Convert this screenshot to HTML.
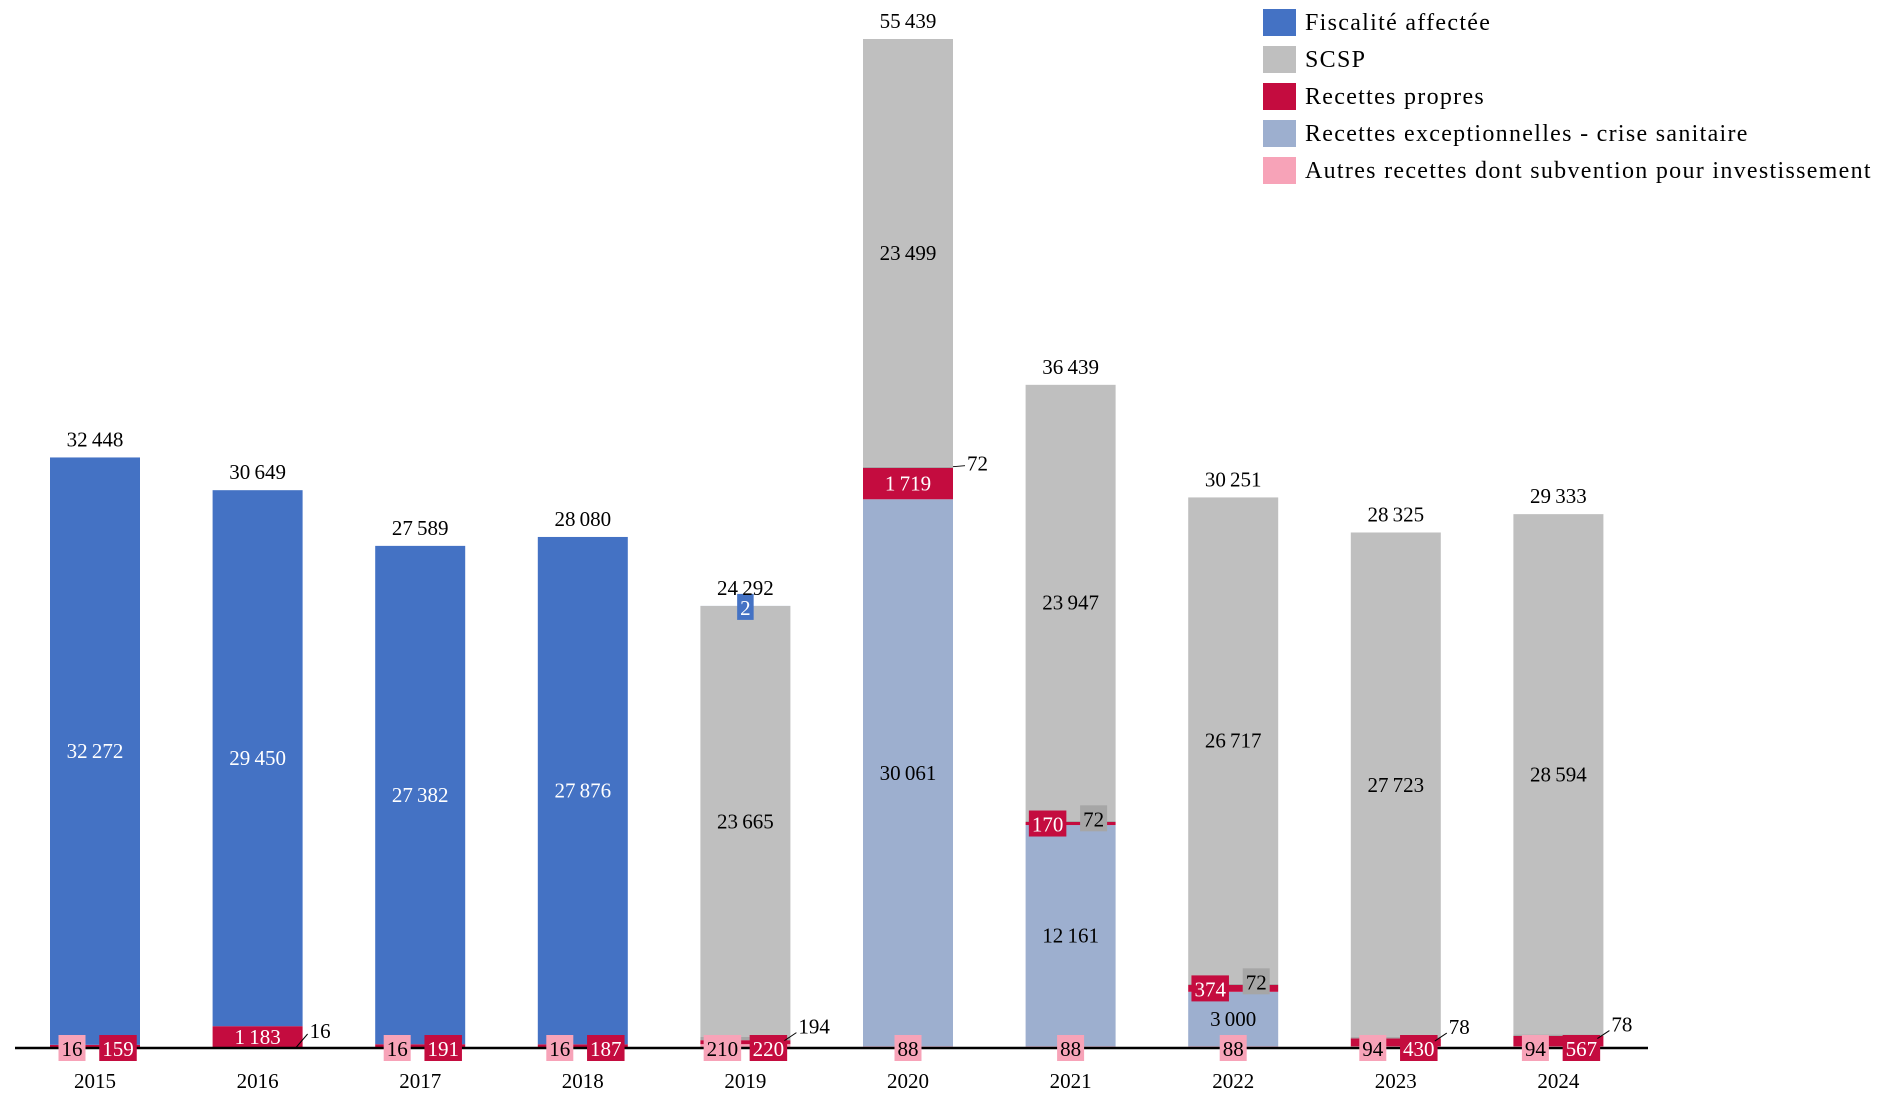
<!DOCTYPE html>
<html><head><meta charset="utf-8"><style>
body{margin:0;background:#fff}
svg{display:block;font-family:"Liberation Serif",serif}
</style></head><body>
<svg id="chart" width="1904" height="1103" viewBox="0 0 1904 1103"></svg>
<script>
const years=["2015","2016","2017","2018","2019","2020","2021","2022","2023","2024"];
const autres=[16,16,16,16,210,88,88,88,94,94];
const excep=[0,0,0,0,0,30061,12161,3000,0,0];
const propres=[159,1183,191,187,220,1719,170,374,430,567];
const autre2=[0,0,0,0,194,72,72,72,78,78];
const scsp=[0,0,0,0,23665,23499,23947,26717,27723,28594];
const fisc=[32272,29450,27382,27876,2,0,0,0,0,0];
const totals=[32448,30649,27589,28080,24292,55439,36439,30251,28325,29333];

const svg=document.getElementById('chart');
const NS='http://www.w3.org/2000/svg';
const axisY=1048, k=1009/55439, x0=95, step=162.6, bw=90;
const X=i=>x0+i*step, Y=v=>axisY-v*k;
const fmt=v=>String(v).replace(/\B(?=(\d{3})+(?!\d))/g,'\u202F');
function el(tag,attrs,parent){const e=document.createElementNS(NS,tag);for(const a in attrs)e.setAttribute(a,attrs[a]);(parent||svg).appendChild(e);return e;}
function txt(x,y,s,fill,anchor,name){const t=el('text',{x:x,y:y,'font-size':21,fill:fill,'text-anchor':anchor||'middle','dominant-baseline':'central'});t.textContent=s;


return t;}
function box(cx,cy,s,bg,fg,name){const w=s.length*10.5+6;const r=el('rect',{x:cx-w/2,y:cy-13,width:w,height:26,fill:bg});


txt(cx,cy+1,s,fg,'middle',name);}

const series=[
 {d:autres,c:'#f7a3b8',n:'autres',fg:'#000'},
 {d:excep,c:'#9dafcf',n:'exceptionnelles',fg:'#000'},
 {d:propres,c:'#c40c3f',n:'propres',fg:'#fff'},
 {d:autre2,c:'#a6a6a6',n:'autres-2',fg:'#000'},
 {d:scsp,c:'#bfbfbf',n:'scsp',fg:'#000'},
 {d:fisc,c:'#4472c4',n:'fiscalite',fg:'#fff'}];

years.forEach((yr,i)=>{
 let base=0;
 series.forEach(s=>{const v=s.d[i];if(v>0){const r=el('rect',{x:X(i)-bw/2,y:Y(base+v),width:bw,height:v*k,fill:s.c});
 
 }
 s.base=s.base||[];s.base[i]=base;base+=v;});
});
const ax=el('line',{x1:15,x2:1648,y1:axisY,y2:axisY,stroke:'#000','stroke-width':2.5});



const TH=18;
years.forEach((yr,i)=>{
 const cx=X(i);
 series.forEach(s=>{
  const v=s.d[i];if(!v)return;
  const b=s.base[i],h=v*k,mid=Y(b+v/2);
  const nm='label-'+s.n+'-'+yr;
  if(h>TH){txt(cx,mid,fmt(v),s.fg,'middle',nm);return;}
  const hasEx=excep[i]>0;
  if(s.n==='autres'){
   if(hasEx) box(cx,axisY,fmt(v),s.c,'#000',nm);
   else if(propres[i]*k>TH){const l=el('line',{x1:cx+bw/2-7,y1:axisY,x2:cx+bw/2+5,y2:axisY-14,stroke:'#000','stroke-width':1});
    
    txt(cx+bw/2+7,axisY-17,fmt(v),'#000','start',nm);}
   else box(cx-23,axisY,fmt(v),s.c,'#000',nm);
  } else if(s.n==='propres'){
   if(hasEx) box(cx-23,mid,fmt(v),s.c,'#fff',nm);
   else box(cx+23,axisY,fmt(v),s.c,'#fff',nm);
  } else if(s.n==='autres-2'){
   if(hasEx && propres[i]*k<=TH) box(cx+23,mid-3,fmt(v),s.c,'#000',nm);
   else if(propres[i]*k>TH){const yy=Y(b+v);const l=el('line',{x1:cx+bw/2,y1:yy,x2:cx+bw/2+12,y2:yy-1,stroke:'#000','stroke-width':1});
    
    txt(cx+bw/2+14,yy-3,fmt(v),'#000','start',nm);}
   else {const yy=Y(b+v);const l=el('line',{x1:cx+bw/2-6,y1:yy+4,x2:cx+bw/2+6,y2:yy-4,stroke:'#000','stroke-width':1});
    
    txt(cx+bw/2+8,yy-10,fmt(v),'#000','start',nm);}
  } else if(s.n==='fiscalite'){
   box(cx,Y(b+v)+1,fmt(v),s.c,'#fff',nm);
  } else box(cx,mid,fmt(v),s.c,s.fg,nm);
 });
 txt(cx,Y(totals[i])-18,fmt(totals[i]),'#000','middle','total-'+yr);
 txt(cx,1081,yr,'#000','middle','x-tick-'+yr);
});

const legendNames=["Fiscalité affectée","SCSP","Recettes propres","Recettes exceptionnelles - crise sanitaire","Autres recettes dont subvention pour investissement"];
const legendColors=['#4472c4','#bfbfbf','#c40c3f','#9dafcf','#f7a3b8'];
legendNames.forEach((n,j)=>{
 const y=22+j*37;
 const r=el('rect',{x:1263,y:y-13,width:33,height:27,fill:legendColors[j]});
 
 
 const t=el('text',{x:1305,y:y+1,'font-size':24,'letter-spacing':1.3,fill:'#000','dominant-baseline':'central'});t.textContent=n;
 
 
});
</script>
</body></html>
